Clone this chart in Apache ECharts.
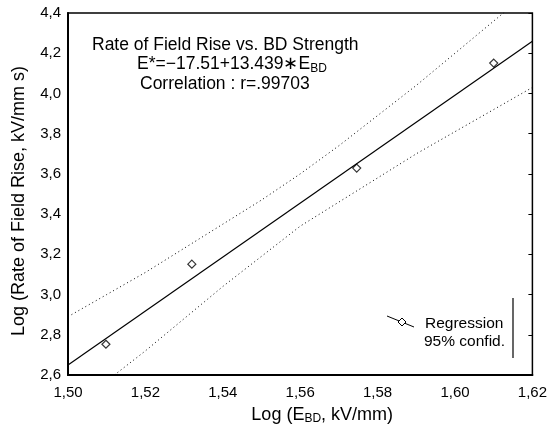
<!DOCTYPE html>
<html>
<head>
<meta charset="utf-8">
<script src="https://cdn.jsdelivr.net/npm/echarts@6/dist/echarts.min.js"></script>
<style>
    html, body { margin: 0; padding: 0; background: #fff; }
    #chart { width: 550px; height: 430px; }
</style>
</head>
<body>
<div id="chart"></div>
<script>
    // measured points (log E_BD, log rate of field rise)
    let pointsX = [1.5098, 1.532, 1.5746, 1.610];
    let pointsY = [2.753, 3.151, 3.629, 4.151];

    // regression line ends
    let regX = [1.50, 1.62];
    let regY = [2.65, 4.26];

    // 95% confidence bands
    let bandX = [1.50, 1.51, 1.52, 1.53, 1.54, 1.55, 1.56, 1.57, 1.58, 1.59, 1.60, 1.61, 1.62];
    let upperBand = [2.89, 3.00, 3.11, 3.23, 3.35, 3.47, 3.60, 3.74, 3.89, 4.04, 4.20, 4.36, 4.52];
    let lowerBand = [2.41, 2.57, 2.72, 2.88, 3.04, 3.19, 3.34, 3.46, 3.58, 3.70, 3.81, 3.92, 4.03];

    let pair = (xs, ys) => xs.map((x, i) => [x, ys[i]]);
    let comma = (v, d) => v.toFixed(d).replace('.', ',');

    let font = 'Liberation Sans, Arial, sans-serif';
    let myChart = echarts.init(document.getElementById('chart'));

    let option = {
        animation: false,
        backgroundColor: '#fff',
        textStyle: { fontFamily: font, color: '#000' },
        grid: {
            left: 68, right: 17, top: 13, bottom: 55,
            show: true, borderColor: '#000', borderWidth: 1.5
        },
        xAxis: {
            type: 'value',
            min: 1.50, max: 1.62, interval: 0.02,
            name: '{n|Log (E}{s|BD}{n|, kV/mm)}',
            nameLocation: 'middle',
            nameGap: 30,
            nameTextStyle: {
                padding: [0, 0, 0, 44],
                rich: {
                    n: { fontSize: 18, fontFamily: font, color: '#000' },
                    s: { fontSize: 12, fontFamily: font, color: '#000', verticalAlign: 'bottom', padding: [8, 0, 0, 0] }
                }
            },
            axisLine: { lineStyle: { color: '#000', width: 2 } },
            axisTick: { show: false },
            splitLine: { show: false },
            axisLabel: { fontSize: 15, color: '#000', margin: 10, formatter: v => comma(v, 2) }
        },
        yAxis: [{
            type: 'value',
            min: 2.6, max: 4.4, interval: 0.2,
            name: 'Log (Rate of Field Rise, kV/mm s)',
            nameLocation: 'middle',
            nameGap: 40,
            nameTextStyle: { fontSize: 18, color: '#000', padding: [0, 14, 0, 0] },
            axisLine: { lineStyle: { color: '#000', width: 2 } },
            axisTick: { show: false },
            splitLine: { show: false },
            axisLabel: { fontSize: 15, color: '#000', margin: 7, formatter: v => comma(v, 1) }
        }, {
            type: 'value',
            position: 'right',
            min: 2.6, max: 4.4, interval: 0.2,
            axisLine: { show: false },
            axisTick: { show: true, inside: true, length: 4, lineStyle: { color: '#000' } },
            axisLabel: { show: false },
            splitLine: { show: false }
        }],
        series: [{
            type: 'line',
            data: pair(bandX, upperBand),
            showSymbol: false,
            lineStyle: { color: '#000', width: 1, type: [1, 3] }
        }, {
            type: 'line',
            data: pair(bandX, lowerBand),
            showSymbol: false,
            lineStyle: { color: '#000', width: 1, type: [1, 3] }
        }, {
            type: 'line',
            data: pair(regX, regY),
            showSymbol: false,
            lineStyle: { color: '#000', width: 1.2 }
        }, {
            type: 'scatter',
            data: pair(pointsX, pointsY),
            symbol: 'diamond',
            symbolSize: 8,
            itemStyle: { color: '#fff', borderColor: '#000', borderWidth: 1.2 }
        }],
        graphic: [{
            type: 'text',
            left: 92, top: 36,
            style: {
                text: 'Rate of Field Rise vs. BD Strength',
                font: '17.5px ' + font, fill: '#000'
            }
        }, {
            type: 'text',
            left: 137, top: 55,
            style: {
                text: '{n|E*=\u221217.51+13.439\u2217E}{s|BD}',
                rich: {
                    n: { fontSize: 17.5, fontFamily: font, fill: '#000' },
                    s: { fontSize: 12, fontFamily: font, fill: '#000', padding: [9, 0, 0, 0] }
                }
            }
        }, {
            type: 'text',
            left: 140, top: 75,
            style: {
                text: 'Correlation : r=.99703',
                font: '17.5px ' + font, fill: '#000'
            }
        }, {
            type: 'polyline',
            shape: { points: [[387, 316], [414, 327]] },
            style: { stroke: '#000', lineWidth: 1 }
        }, {
            type: 'polygon',
            shape: { points: [[402, 318], [406, 322], [402, 326], [398, 322]] },
            style: { fill: '#fff', stroke: '#000', lineWidth: 1 }
        }, {
            type: 'text',
            left: 425, top: 316,
            style: { text: 'Regression', font: '15.5px ' + font, fill: '#000' }
        }, {
            type: 'text',
            left: 424, top: 334,
            style: { text: '95% confid.', font: '15.5px ' + font, fill: '#000' }
        }, {
            type: 'line',
            shape: { x1: 513, y1: 298, x2: 513, y2: 358 },
            style: { stroke: '#000', lineWidth: 1.2 }
        }]
    };
    myChart.setOption(option);
</script>
</body>
</html>
